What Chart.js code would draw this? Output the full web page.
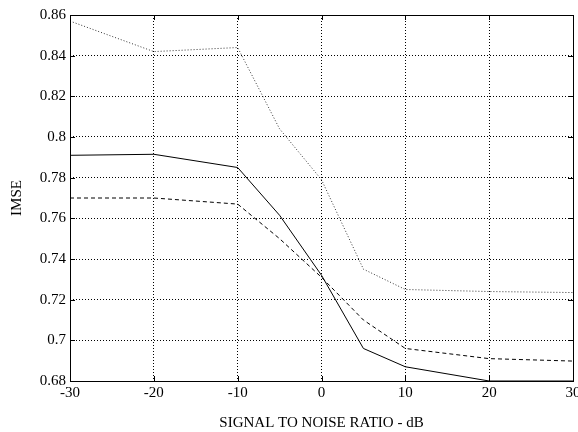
<!DOCTYPE html>
<html>
<head>
<meta charset="utf-8">
<script src="https://cdn.jsdelivr.net/npm/chart.js@4/dist/chart.umd.min.js"></script>
<style>
  body { margin: 0; background: #fff; }
</style>
</head>
<body>
<canvas id="myChart" width="578" height="432"></canvas>
<script>
const snr = [-30, -20, -10, -5, 0, 5, 10, 20, 30];
const solidLine = [0.791, 0.7915, 0.785, 0.7615, 0.732, 0.696, 0.687, 0.680, 0.680];
const dashedLine = [0.770, 0.770, 0.767, 0.750, 0.731, 0.710, 0.696, 0.691, 0.6898];
const dottedLine = [0.857, 0.842, 0.844, 0.804, 0.779, 0.735, 0.725, 0.724, 0.7235];
const xTicks = [-30, -20, -10, 0, 10, 20, 30];
const yTicks = [0.68, 0.7, 0.72, 0.74, 0.76, 0.78, 0.8, 0.82, 0.84, 0.86];

const points = (ys) => snr.map((x, i) => ({x: x, y: ys[i]}));

// box round the plot and inward tick marks, like the matlab figure
const boxPlugin = {
  id: 'box',
  afterDraw(chart) {
    const c = chart.ctx;
    const a = chart.chartArea;
    const xs = chart.scales.x, ys = chart.scales.y;
    c.save();
    c.strokeStyle = '#000';
    c.lineWidth = 1;
    c.setLineDash([]);
    c.strokeRect(a.left + 0.5, a.top + 0.5, a.right - a.left, a.bottom - a.top);
    c.beginPath();
    xTicks.forEach(v => {
      const px = Math.round(xs.getPixelForValue(v)) + 0.5;
      c.moveTo(px, a.bottom); c.lineTo(px, a.bottom - 5);
      c.moveTo(px, a.top); c.lineTo(px, a.top + 5);
    });
    yTicks.forEach(v => {
      const py = Math.round(ys.getPixelForValue(v)) + 0.5;
      c.moveTo(a.left, py); c.lineTo(a.left + 5, py);
      c.moveTo(a.right, py); c.lineTo(a.right - 5, py);
    });
    c.stroke();
    c.restore();
  }
};

const ctx1 = document.getElementById('myChart');

new Chart(ctx1, {
  type: 'line',
  data: {
    datasets: [{
      data: points(solidLine),
      borderColor: '#000',
      borderWidth: 1,
      pointRadius: 0,
      tension: 0,
      clip: false
    }, {
      data: points(dashedLine),
      borderColor: '#000',
      borderWidth: 1,
      borderDash: [4, 3],
      pointRadius: 0,
      tension: 0
    }, {
      data: points(dottedLine),
      borderColor: '#333',
      borderWidth: 1,
      borderDash: [1, 2],
      pointRadius: 0,
      tension: 0
    }]
  },
  options: {
    responsive: false,
    animation: false,
    layout: { autoPadding: false, padding: { top: 15, right: 5, left: 0, bottom: 0 } },
    plugins: { legend: { display: false }, tooltip: { enabled: false } },
    scales: {
      x: {
        type: 'linear',
        min: -30,
        max: 30,
        afterFit(scale) {
          scale.height = 51;
          scale.paddingLeft = 0;
          scale.paddingRight = 0;
        },
        afterBuildTicks(scale) { scale.ticks = xTicks.map(v => ({value: v})); },
        ticks: {
          color: '#000',
          padding: 3,
          font: { family: 'Liberation Serif', size: 15 },
          maxRotation: 0,
          callback: v => String(v)
        },
        grid: { color: '#000', drawTicks: false, lineWidth: 1 },
        border: { display: false, dash: [1, 2] },
        title: {
          display: true,
          text: 'SIGNAL TO NOISE RATIO - dB',
          color: '#000',
          font: { family: 'Liberation Serif', size: 15 },
          padding: { top: 0, bottom: 0 }
        }
      },
      y: {
        min: 0.68,
        max: 0.86,
        afterFit(scale) {
          scale.width = 70;
          scale.paddingTop = 0;
          scale.paddingBottom = 0;
        },
        afterBuildTicks(scale) { scale.ticks = yTicks.map(v => ({value: v})); },
        ticks: {
          color: '#000',
          padding: 4,
          font: { family: 'Liberation Serif', size: 15 },
          callback: v => String(+v.toFixed(2))
        },
        grid: { color: '#000', drawTicks: false, lineWidth: 1 },
        border: { display: false, dash: [1, 2] },
        title: {
          display: true,
          text: 'IMSE',
          color: '#000',
          font: { family: 'Liberation Serif', size: 15 },
          padding: { top: 8, bottom: 0 }
        }
      }
    }
  },
  plugins: [boxPlugin]
});
</script>
</body>
</html>
